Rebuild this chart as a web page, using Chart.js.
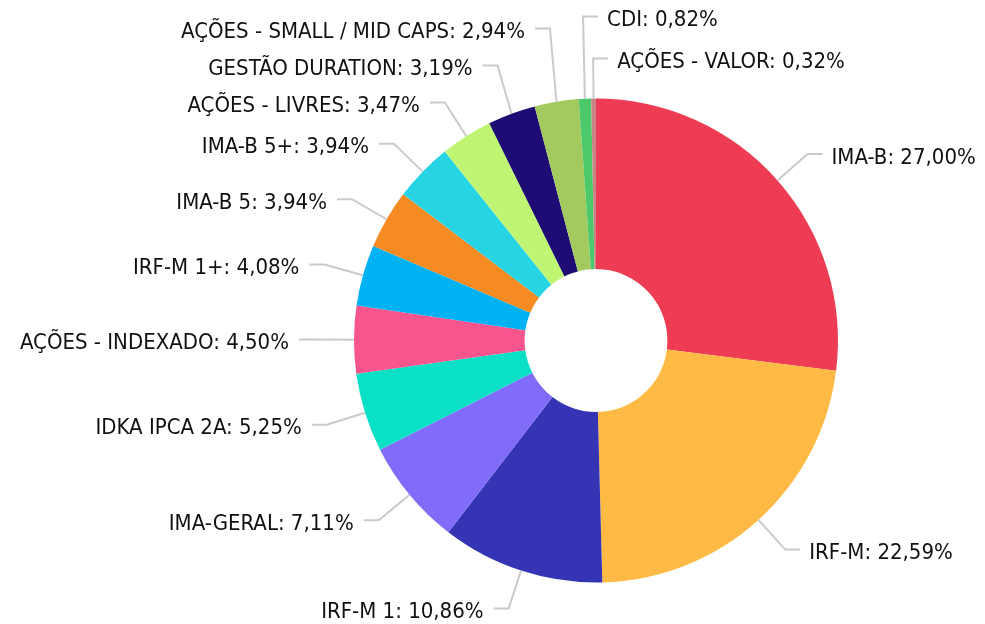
<!DOCTYPE html>
<html>
<head>
<meta charset="utf-8">
<script src="https://cdn.jsdelivr.net/npm/chart.js@4/dist/chart.umd.min.js"></script>
<style>
  body { margin: 0; background: #fff; }
  #wrap { width: 985px; height: 624px; }
</style>
</head>
<body>
<div id="wrap"><canvas id="grafico"></canvas></div>
<script>
const categorias = [
    'IMA-B', 'IRF-M', 'IRF-M 1', 'IMA-GERAL', 'IDKA IPCA 2A', 'AÇÕES - INDEXADO',
    'IRF-M 1+', 'IMA-B 5', 'IMA-B 5+', 'AÇÕES - LIVRES', 'GESTÃO DURATION',
    'AÇÕES - SMALL / MID CAPS', 'CDI', 'AÇÕES - VALOR'
];
const percentuais = [27.00, 22.59, 10.86, 7.11, 5.25, 4.50, 4.08, 3.94, 3.94, 3.47, 3.19, 2.94, 0.82, 0.32];
const cores = [
    '#EE3C54', '#FFBA45', '#3434B5', '#806CF9', '#0AE0C6', '#F8548E', '#00B2F2',
    '#F68A23', '#27D4E4', '#C0F574', '#1E0B73', '#A2CA5E', '#4CC96A', '#C98585'
];

const fonte = '22px "DejaVu Sans Condensed", "DejaVu Sans", sans-serif';

// rótulos externos com linhas guia
const rotulosExternos = {
    id: 'rotulosExternos',
    afterDatasetsDraw(chart) {
        const ctx = chart.ctx;
        const arcos = chart.getDatasetMeta(0).data;
        const itens = arcos.map((arc, i) => {
            const meio = (arc.startAngle + arc.endAngle) / 2;
            let graus = meio * 180 / Math.PI;
            while (graus > 180) graus -= 360;
            while (graus <= -180) graus += 360;
            const direita = graus >= -95 && graus <= 90;
            const r = arc.outerRadius;
            return {
                i, graus, direita,
                ax: arc.x + r * Math.cos(meio),
                ay: arc.y + r * Math.sin(meio),
                ex: arc.x + (r + 40) * Math.cos(meio),
                ey: arc.y + (r + 40) * Math.sin(meio)
            };
        });

        // lado direito: de baixo para cima
        const dir = itens.filter(o => o.direita).sort((a, b) => b.graus - a.graus);
        let prev = Infinity;
        dir.forEach(o => { o.ey = Math.min(o.ey, prev - 42); prev = o.ey; });
        // lado esquerdo: de baixo para cima
        const esq = itens.filter(o => !o.direita).map(o => {
            o.g2 = o.graus < 0 ? o.graus + 360 : o.graus; return o;
        }).sort((a, b) => a.g2 - b.g2);
        prev = Infinity;
        esq.forEach(o => { o.ey = Math.min(o.ey, prev - 37); prev = o.ey; });

        ctx.save();
        ctx.font = fonte;
        ctx.textBaseline = 'middle';
        itens.forEach(o => {
            const hx = o.direita ? o.ex + 15 : o.ex - 15;
            ctx.strokeStyle = '#cacaca';
            ctx.lineWidth = 2;
            ctx.beginPath();
            ctx.moveTo(o.ax, o.ay);
            ctx.lineTo(o.ex, o.ey);
            ctx.lineTo(hx, o.ey);
            ctx.stroke();

            const texto = categorias[o.i] + ': ' + percentuais[o.i].toFixed(2).replace('.', ',') + '%';
            ctx.fillStyle = '#111';
            ctx.textAlign = o.direita ? 'left' : 'right';
            ctx.fillText(texto, o.direita ? hx + 9 : hx - 10, o.ey + 4);
        });
        ctx.restore();
    }
};

const ctx = document.getElementById('grafico').getContext('2d');
new Chart(ctx, {
    type: 'doughnut',
    data: {
        labels: categorias,
        datasets: [{
            data: percentuais,
            backgroundColor: cores,
            borderWidth: 0
        }]
    },
    options: {
        responsive: true,
        maintainAspectRatio: false,
        animation: false,
        cutout: '29.5%',
        layout: {
            padding: { left: 354, right: 147, top: 98, bottom: 41 }
        },
        plugins: {
            legend: { display: false },
            tooltip: { enabled: false }
        }
    },
    plugins: [rotulosExternos]
});
</script>
</body>
</html>
